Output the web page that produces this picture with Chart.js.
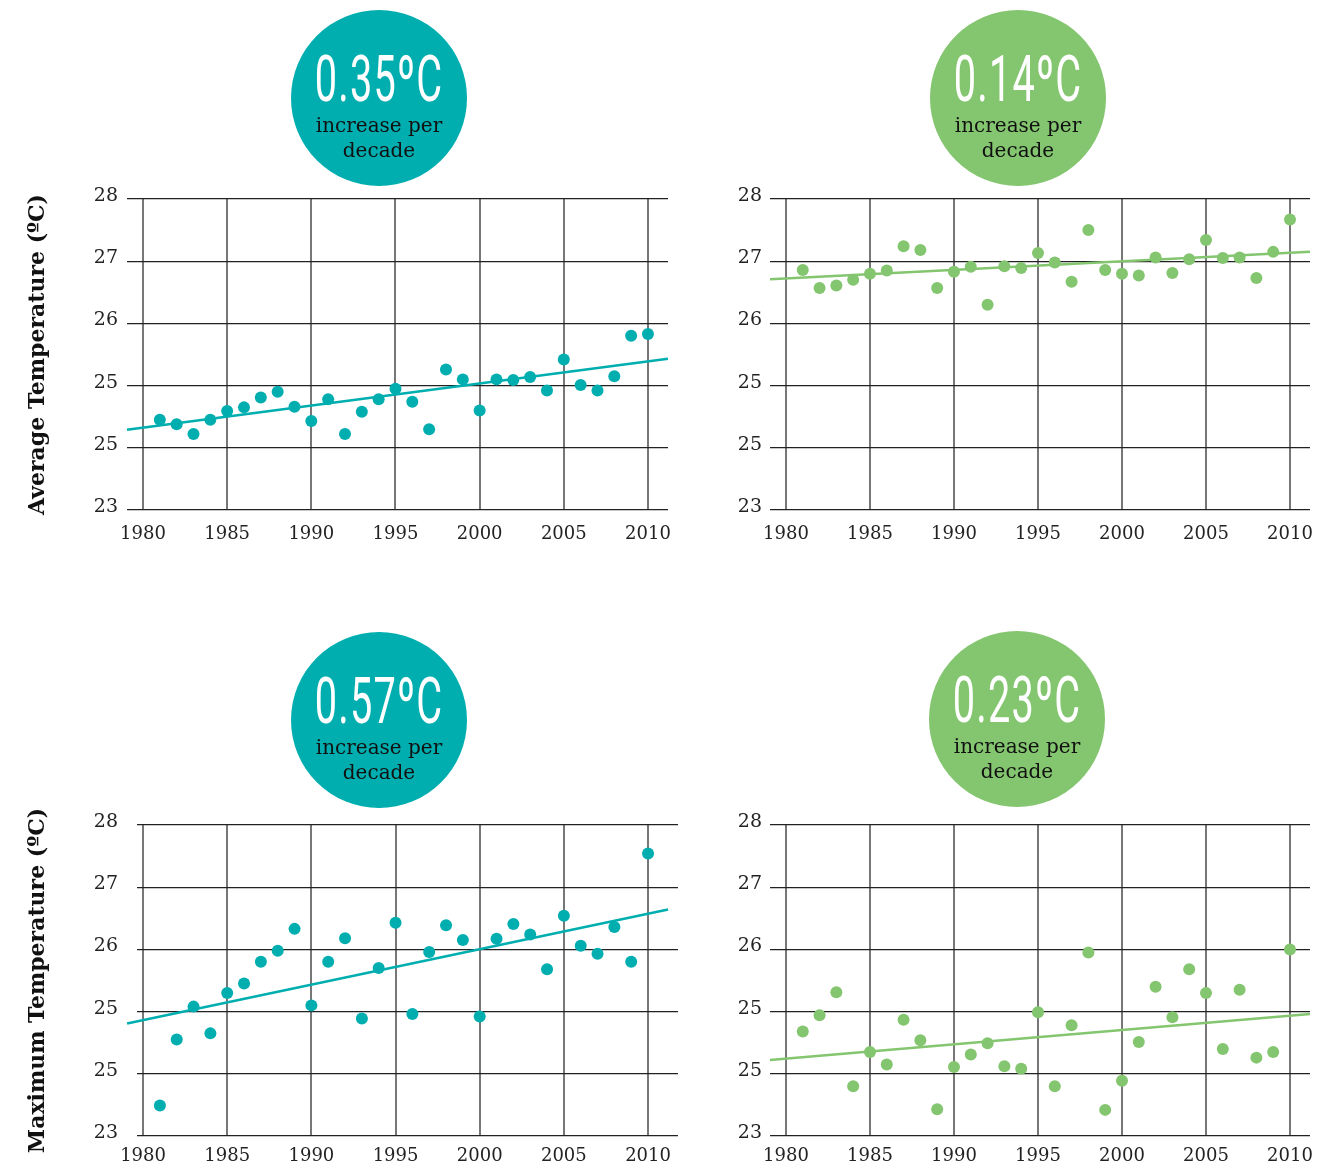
<!DOCTYPE html>
<html><head><meta charset="utf-8">
<script src="https://cdn.jsdelivr.net/npm/chart.js@4.4.1/dist/chart.umd.min.js"></script>
<style>
html,body{margin:0;padding:0;background:#fff;width:1319px;height:1169px;overflow:hidden;}
canvas{position:absolute;}
.badge{position:absolute;width:176px;height:176px;border-radius:50%;text-align:center;}
.big{position:absolute;left:-30px;right:-30px;top:38px;font-family:Roboto,"DejaVu Sans",sans-serif;font-size:64px;color:#fff;line-height:1;transform:scaleX(0.62);letter-spacing:2px;white-space:nowrap;}
.sub{position:absolute;left:-10px;right:-10px;top:103px;font-family:"DejaVu Serif",serif;font-size:20px;line-height:25px;color:#111;}
</style></head><body>
<canvas id="c1" width="680" height="380" style="left:0;top:180px"></canvas>
<canvas id="c2" width="639" height="380" style="left:680px;top:180px"></canvas>
<canvas id="c3" width="684" height="369" style="left:0;top:800px"></canvas>
<canvas id="c4" width="639" height="369" style="left:680px;top:800px"></canvas>

<div class="badge" style="left:291px;top:10px;background:#00AEB0"><div class="big">0.35ºC</div><div class="sub">increase per<br>decade</div></div>
<div class="badge" style="left:930px;top:10px;background:#84C56F"><div class="big">0.14ºC</div><div class="sub">increase per<br>decade</div></div>
<div class="badge" style="left:291px;top:632px;background:#00AEB0"><div class="big">0.57ºC</div><div class="sub">increase per<br>decade</div></div>
<div class="badge" style="left:929px;top:631px;background:#84C56F"><div class="big">0.23ºC</div><div class="sub">increase per<br>decade</div></div>

<script>
// ---- data ----
const years = [1981,1982,1983,1984,1985,1986,1987,1988,1989,1990,1991,1992,1993,1994,1995,1996,1997,1998,1999,2000,2001,2002,2003,2004,2005,2006,2007,2008,2009,2010];
const avgTeal = [24.45,24.38,24.22,24.45,24.59,24.65,24.81,24.90,24.66,24.43,24.78,24.22,24.58,24.78,24.95,24.74,24.30,25.26,25.10,24.60,25.10,25.09,25.14,24.92,25.42,25.01,24.92,25.15,25.80,25.83];
const avgGreen = [26.86,26.57,26.61,26.70,26.80,26.85,27.24,27.18,26.57,26.83,26.91,26.30,26.92,26.89,27.13,26.98,26.67,27.50,26.86,26.80,26.77,27.06,26.81,27.03,27.34,27.05,27.06,26.73,27.15,27.67];
const maxTeal = [23.49,24.55,25.08,24.65,25.30,25.45,25.80,25.98,26.33,25.10,25.80,26.18,24.89,25.70,26.43,24.96,25.96,26.39,26.15,24.92,26.17,26.41,26.24,25.68,26.54,26.06,25.93,26.36,25.80,27.54];
const maxGreen = [24.68,24.94,25.31,23.80,24.35,24.15,24.87,24.54,23.43,24.11,24.31,24.49,24.12,24.08,24.99,23.80,24.78,25.95,23.42,23.89,24.51,25.40,24.91,25.68,25.30,24.40,25.35,24.26,24.35,26.00];
const trendYears = [1979.05, 2011.19];
const trendAvgTeal = [24.29, 25.43];
const trendAvgGreen = [26.71, 27.15];
const trendMaxTeal = [24.81, 26.64];
const trendMaxGreen = [24.22, 24.96];
const xTickValues = [1980,1985,1990,1995,2000,2005,2010];
const yTickValues = [23,24,25,26,27,28];
const yTickLabels = ['23','25','25','26','27','28'];
const TEAL = '#00AEB0', GREEN = '#84C56F';

function makeChart(id, pts, trend, color, title, g) {
  new Chart(document.getElementById(id), {
    data: { datasets: [
      { type:'scatter', data: years.map((x,i)=>({x:x, y:pts[i]})), backgroundColor: color, borderWidth:0, pointRadius:6, order:0 },
      { type:'line', data: trendYears.map((x,i)=>({x:x, y:trend[i]})), borderColor: color, borderWidth:2.5, pointRadius:0, fill:false, clip:false, order:1 }
    ]},
    options: {
      responsive:false, animation:false, events:[], devicePixelRatio:1,
      layout:{padding:{left:0,right:g.padRight,top:g.padTop,bottom:0}},
      plugins:{legend:{display:false}, tooltip:{enabled:false}},
      scales:{
        x:{ type:'linear', min:g.xmin, max:g.xmax,
            afterBuildTicks: s => { s.ticks = xTickValues.map(v=>({value:v})); },
            afterFit: s => { s.height = g.xHeight; s.paddingLeft = 0; s.paddingRight = 0; s.paddingTop = 0; s.paddingBottom = 0; },
            grid:{color:'#777', lineWidth:2, drawTicks:false},
            border:{display:false},
            ticks:{padding:g.xPad, autoSkip:false, maxRotation:0, color:'#222', font:{family:'DejaVu Serif', size:18}, callback: v => String(v)} },
        y:{ type:'linear', min:23, max:28,
            afterBuildTicks: s => { s.ticks = yTickValues.map(v=>({value:v})); },
            afterFit: s => { s.width = g.yWidth; s.paddingTop = 0; s.paddingBottom = 0; s.paddingLeft = 0; s.paddingRight = 0; },
            grid:{color:'#222', lineWidth:1.3, drawTicks:false},
            border:{display:false},
            ticks:{padding:g.yPad, labelOffset:-3, color:'#222', font:{family:'DejaVu Serif', size:19}, callback: v => yTickLabels[yTickValues.indexOf(v)]},
            title:{display:!!title, text:title||'', color:'#111', font:{family:'DejaVu Serif', size:22, weight:'bold'}, padding:{top:25,bottom:0}} }
      }
    }
  });
}

makeChart('c1', avgTeal, trendAvgTeal, TEAL, 'Average Temperature (ºC)',
  {padRight:12, padTop:19, xHeight:50, yWidth:127, xmin:1979.05, xmax:2011.19, xPad:14, yPad:9});
makeChart('c2', avgGreen, trendAvgGreen, GREEN, null,
  {padRight:9, padTop:19, xHeight:50, yWidth:90, xmin:1979.05, xmax:2011.19, xPad:14, yPad:8});
makeChart('c3', maxTeal, trendMaxTeal, TEAL, 'Maximum Temperature (ºC)',
  {padRight:6, padTop:25, xHeight:33, yWidth:137, xmin:1979.64, xmax:2011.78, xPad:10, yPad:19});
makeChart('c4', maxGreen, trendMaxGreen, GREEN, null,
  {padRight:9, padTop:25, xHeight:33, yWidth:90, xmin:1979.05, xmax:2011.19, xPad:10, yPad:8});
</script>
</body></html>
